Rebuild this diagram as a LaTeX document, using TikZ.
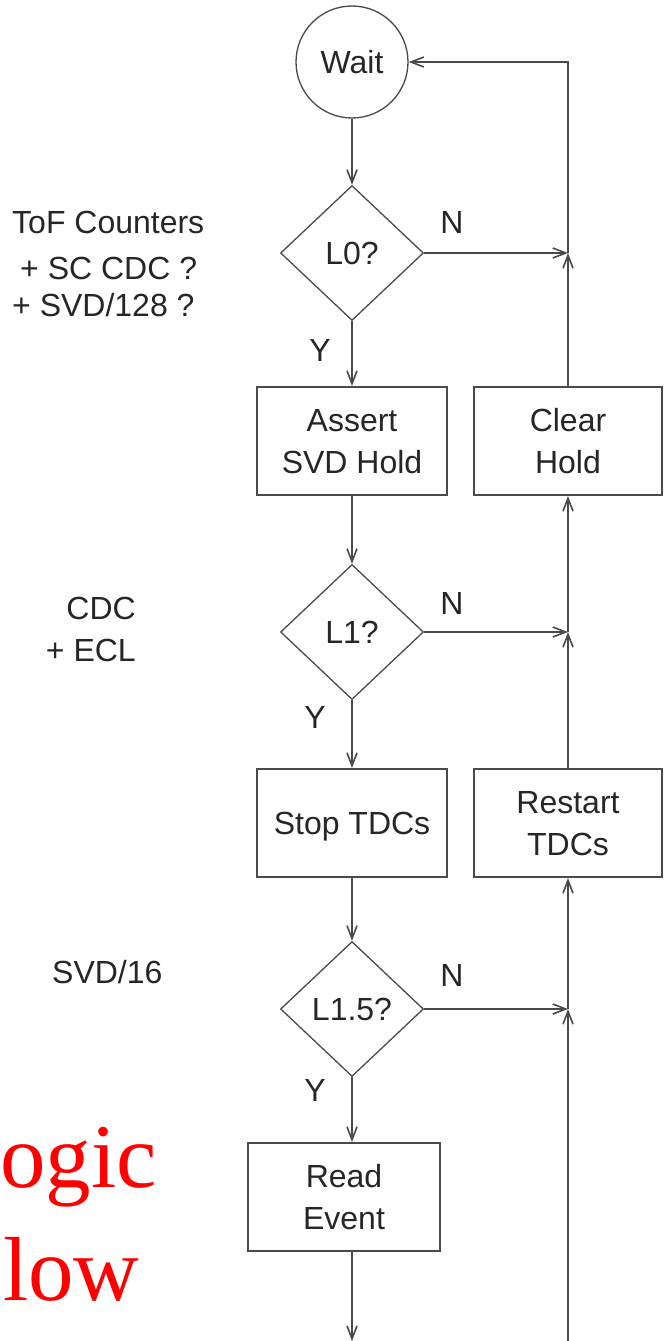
\documentclass[tikz,border=0pt]{standalone}
\usepackage{fontspec}
\setmainfont{Liberation Sans}
\newfontfamily\redserif{Liberation Serif}
\usetikzlibrary{positioning, shapes.geometric, arrows.meta}
\definecolor{lineGray}{HTML}{4A4A4A}
\definecolor{textGray}{HTML}{262626}

\begin{document}
\begin{tikzpicture}[x=1pt, y=-1pt,
    every node/.style={text=textGray, font=\fontsize{32}{42}\selectfont},
    box/.style={rectangle, draw=lineGray, line width=2pt, minimum width=190pt, minimum height=108pt, align=center, text depth=0pt},
    decide/.style={diamond, draw=lineGray, line width=1.3pt, minimum width=143pt, minimum height=135pt, inner sep=0pt},
    flow/.style={draw=lineGray, line width=1.6pt, -{Straight Barb[length=13pt, width=10pt]}},
    side/.style={anchor=west, inner sep=0pt},
    answer/.style={inner sep=0pt},
  ]
  \useasboundingbox (0,0) rectangle (664,1341);

  % main column
  \node [circle, draw=lineGray, line width=1.3pt, minimum size=112pt, inner sep=0pt] (wait) at (352,62) {Wait};
  \node [decide] (l0) at (352,253) {L0?};
  \node [box] (assert) at (352,441) {Assert\\SVD Hold};
  \node [decide] (l1) at (352,632) {L1?};
  \node [box] (stop) at (352,823) {Stop TDCs};
  \node [decide] (l15) at (352,1009) {L1.5?};
  \node [box, minimum width=192pt] (read) at (344,1197) {Read\\Event};

  % return column
  \node [box, minimum width=188pt] (clear) at (568,441) {Clear\\Hold};
  \node [box, minimum width=188pt] (restart) at (568,823) {Restart\\TDCs};
  \coordinate (j0) at (568,253);
  \coordinate (j1) at (568,632);
  \coordinate (j15) at (568,1009);
  \coordinate (inB) at (568,1341);
  \coordinate (outA) at (352,1341);

  % trigger sources
  \node [side] (tof) at (12,222) {ToF Counters};
  \node [side] (sccdc) at (20,268) {+ SC CDC ?};
  \node [side] (svd128) at (12,305) {+ SVD/128 ?};
  \node [anchor=east, inner sep=0pt] (cdc) at (136,608) {CDC};
  \node [anchor=east, inner sep=0pt] (ecl) at (136,650) {+ ECL};
  \node [side] (svd16) at (52,972) {SVD/16};

  % answers
  \node [answer] (n0) at (452,222) {N};
  \node [answer] (y0) at (320,350) {Y};
  \node [answer] (n1) at (452,603) {N};
  \node [answer] (y1) at (315,717) {Y};
  \node [answer] (n15) at (452,975) {N};
  \node [answer] (y15) at (315,1090) {Y};

  % title
  \node [anchor=base west, inner sep=0pt, text=red, font=\redserif\fontsize{91}{110}\selectfont] (logicA) at (0,1187) {ogic};
  \node [anchor=base west, inner sep=0pt, text=red, font=\redserif\fontsize{91}{110}\selectfont] (logicB) at (3,1300) {low};

  % connectors
  \draw [flow] (wait) -- (l0);
  \draw [flow] (l0) -- (assert);
  \draw [flow] (assert) -- (l1);
  \draw [flow] (l1) -- (stop);
  \draw [flow] (stop) -- (l15);
  \draw [flow] (l15.south) -- (l15.south |- read.north);
  \draw [flow] (read.south -| outA) -- (outA);

  \draw [flow] (l0.east) -- (j0);
  \draw [flow] (clear.north) -- (j0);
  \draw [flow] (j0) |- (wait.east);
  \draw [flow] (l1.east) -- (j1);
  \draw [flow] (restart.north) -- (j1);
  \draw [flow] (j1) -- (clear.south);
  \draw [flow] (l15.east) -- (j15);
  \draw [flow] (inB) -- (j15);
  \draw [flow] (j15) -- (restart.south);
\end{tikzpicture}
\end{document}
